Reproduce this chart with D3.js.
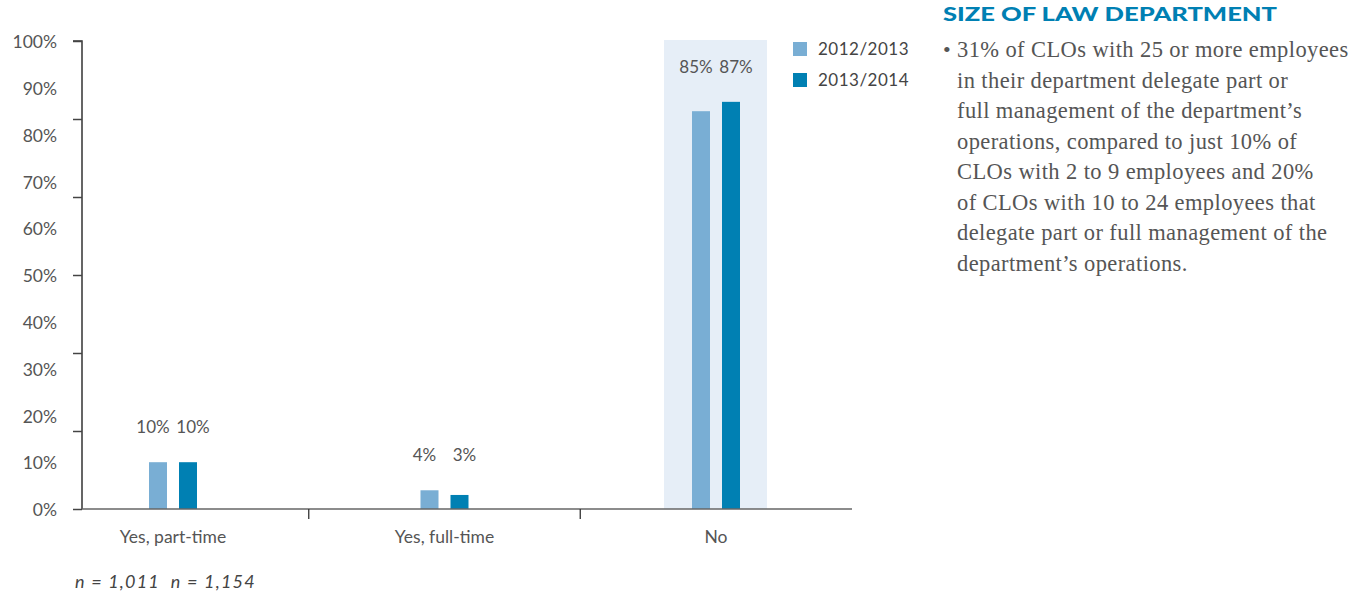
<!DOCTYPE html>
<html>
<head>
<meta charset="utf-8">
<script src="https://cdn.jsdelivr.net/npm/d3@7"></script>
<style>
  html, body { margin: 0; padding: 0; background: #fff; }
  svg { display: block; }
</style>
</head>
<body>
<svg id="chart" width="1364" height="595"></svg>
<script>
// Delegation of law-department management, by survey year
const categories = ["Yes, part-time", "Yes, full-time", "No"];
const seriesNames = ["2012/2013", "2013/2014"];
const values2012 = [10, 4, 85];
const values2013 = [10, 3, 87];
const yLabelValues = [0, 10, 20, 30, 40, 50, 60, 70, 80, 90, 100];
const yTickValues = [0, 100 / 6, 200 / 6, 50, 400 / 6, 500 / 6, 100];
const sampleNote = "n = 1,011  n = 1,154";
const highlightCategory = "No";

const sideTitle = "SIZE OF LAW DEPARTMENT";
const sideLines = [
  "31% of CLOs with 25 or more employees",
  "in their department delegate part or",
  "full management of the department\u2019s",
  "operations, compared to just 10% of",
  "CLOs with 2 to 9 employees and 20%",
  "of CLOs with 10 to 24 employees that",
  "delegate part or full management of the",
  "department\u2019s operations."
];

const colors = ["#79aed4", "#0080b3"];
const sansFont = "Lato, 'Open Sans', sans-serif";
const serifFont = "'Liberation Serif', 'DejaVu Serif', serif";

const svg = d3.select("#chart");

const x = d3.scalePoint().domain(categories).range([173, 716]);
const y = d3.scaleLinear().domain([0, 100]).range([509, 41]);
const barW = 18, barGap = 12;
const axisLeft = 82, axisRight = 852;

// shaded panel behind the highlighted category
svg.append("rect")
  .attr("x", x(highlightCategory) - 52)
  .attr("y", y(100) - 1)
  .attr("width", 103)
  .attr("height", y(0) - y(100) + 1)
  .attr("fill", "#e6eef7");

// bars
const series = [values2012, values2013];
series.forEach((vals, s) => {
  svg.append("g").selectAll("rect")
    .data(categories)
    .join("rect")
    .attr("x", (c) => x(c) - barGap / 2 - barW + s * (barW + barGap))
    .attr("y", (c, i) => y(vals[i]))
    .attr("width", barW)
    .attr("height", (c, i) => y(0) - y(vals[i]))
    .attr("fill", colors[s]);
});

// value labels above each pair of bars
categories.forEach((c, i) => {
  const top = y(Math.max(values2012[i], values2013[i])) - 29;
  [values2012[i], values2013[i]].forEach((v, s) => {
    const cx = x(c) - barGap / 2 - barW / 2 + s * (barW + barGap);
    svg.append("text")
      .attr("x", cx + (s === 0 ? -5 : 5))
      .attr("y", top)
      .attr("text-anchor", "middle")
      .attr("font-family", sansFont)
      .attr("font-size", 17)
      .attr("fill", "#555")
      .text(v + "%");
  });
});

// y axis: line with ticks at sixths
const yAxis = svg.append("g")
  .attr("transform", `translate(${axisLeft},0)`)
  .call(d3.axisLeft(y).tickValues(yTickValues).tickSize(9).tickFormat(""));
yAxis.select(".domain").attr("stroke", "#333").attr("stroke-width", 1.5).attr("d", `M-9,${y(100)}H0V${y(0)}`);
yAxis.selectAll(".tick line").attr("stroke", "#444").attr("stroke-width", 1.5);

// y labels every 10%
svg.append("g").selectAll("text")
  .data(yLabelValues)
  .join("text")
  .attr("x", 57)
  .attr("y", (d) => y(d) + 1)
  .attr("dy", "0.35em")
  .attr("text-anchor", "end")
  .attr("font-family", sansFont)
  .attr("font-size", 17.5)
  .attr("fill", "#555")
  .text((d) => d + "%");

// x axis baseline and category separators
svg.append("line")
  .attr("x1", axisLeft).attr("x2", axisRight)
  .attr("y1", y(0)).attr("y2", y(0))
  .attr("stroke", "#666").attr("stroke-width", 1.5);

const separators = d3.pairs(categories).map(([a, b]) => (x(a) + x(b)) / 2);
svg.append("g").selectAll("line")
  .data(separators)
  .join("line")
  .attr("x1", (d) => d).attr("x2", (d) => d)
  .attr("y1", y(0)).attr("y2", y(0) + 10)
  .attr("stroke", "#333").attr("stroke-width", 1.3);

svg.append("g").selectAll("text")
  .data(categories)
  .join("text")
  .attr("x", (d) => x(d))
  .attr("y", 543)
  .attr("text-anchor", "middle")
  .attr("font-family", sansFont)
  .attr("font-size", 17.5)
  .attr("fill", "#555")
  .text((d) => d);

// legend
const legend = svg.append("g").attr("transform", "translate(793,42)");
seriesNames.forEach((name, i) => {
  legend.append("rect")
    .attr("x", 0).attr("y", i * 31)
    .attr("width", 14).attr("height", 14)
    .attr("fill", colors[i]);
  legend.append("text")
    .attr("x", 25).attr("y", i * 31 + 7)
    .attr("dy", "0.35em")
    .attr("font-family", sansFont)
    .attr("font-size", 17)
    .attr("fill", "#444")
    .attr("letter-spacing", 0.5)
    .text(name);
});

// sample sizes
svg.append("text")
  .attr("x", 75).attr("y", 588)
  .attr("font-family", sansFont)
  .attr("font-style", "italic")
  .attr("font-size", 18)
  .attr("letter-spacing", 1.2)
  .attr("fill", "#444")
  .attr("xml:space", "preserve")
  .style("white-space", "pre")
  .text(sampleNote);

// side commentary
svg.append("text")
  .attr("x", 943).attr("y", 21)
  .attr("font-family", sansFont)
  .attr("font-weight", 900)
  .attr("font-size", 18.5)
  .attr("textLength", 334)
  .attr("lengthAdjust", "spacingAndGlyphs")
  .attr("fill", "#0080b3")
  .text(sideTitle);

svg.append("text")
  .attr("x", 943).attr("y", 57)
  .attr("font-family", serifFont)
  .attr("font-size", 22)
  .attr("fill", "#555")
  .text("\u2022");

svg.append("g").selectAll("text")
  .data(sideLines)
  .join("text")
  .attr("x", 957)
  .attr("y", (d, i) => 57 + i * 30.5)
  .attr("font-family", serifFont)
  .attr("font-size", 22.5)
  .attr("letter-spacing", 0.4)
  .attr("fill", "#555")
  .text((d) => d);
</script>
</body>
</html>
